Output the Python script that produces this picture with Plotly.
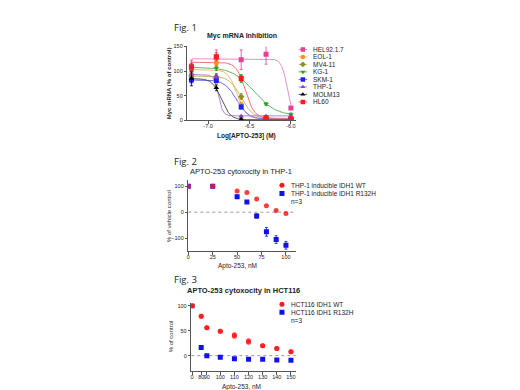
import numpy as np
import plotly.graph_objects as go

W, H = 520, 390
FONT = "Liberation Sans, Arial, sans-serif"
AX = "#555555"

def px(x):
    return x / W

def py(y):
    return 1 - y / H

# ---------------- Fig. 1 data ----------------
f1_logdose = [-7.2, -6.9, -6.6, -6.3, -6.0]
f1_names = ["HEL92.1.7", "EOL-1", "MV4-11", "KG-1", "SKM-1", "THP-1", "MOLM13", "HL60"]
hel = [110, 128, 123, 134, 25]
eol = [100, 117, 32, 3, 3]
mv4 = [90, 88, 48, 5, 3]
kg1 = [107, 106, 85, 33, 12]
skm = [82, 81, 27, 2, 2]
thp = [95, 90, 8, 8, 8]
molm = [85, 66, 2, 1, 1]
hl60 = [108, 129, 85, 5, 3]
hel_err = [12, 15, 20, 20, 3]
eol_err = [6, 8, 5, 2, 2]
mv4_err = [5, 5, 6, 2, 2]
kg1_err = [6, 5, 8, 3, 3]
skm_err = [6, 5, 4, 2, 2]
thp_err = [5, 5, 2, 2, 2]
molm_err = [15, 6, 2, 1, 1]
hl60_err = [8, 8, 6, 2, 2]
# fitted 4PL parameters: top, bottom, logIC50, hill
fit_top = [125, 103, 90, 108, 82, 93, 85, 118]
fit_bottom = [0, 3, 3, 9, 2, 9, 1, 4]
fit_logic50 = [-6.04, -6.65, -6.60, -6.445, -6.655, -6.875, -6.84, -6.55]
fit_hill = [12, 8, 6, 3.3, 6, 16, 8, 8]

f1_series = [hel, eol, mv4, kg1, skm, thp, molm, hl60]
f1_errs = [hel_err, eol_err, mv4_err, kg1_err, skm_err, thp_err, molm_err, hl60_err]
f1_mcolors = ["#e83e96", "#f7941d", "#8f8f1e", "#2ca02c", "#1f1fff", "#8e44ad", "#000000", "#ff1a1a"]
f1_lcolors = ["#ea8cc4", "#f5b870", "#c4b870", "#62b862", "#6c6cf5", "#b583d6", "#555555", "#ef7474"]
f1_symbols = ["square", "circle", "diamond", "triangle-down", "square", "triangle-up", "triangle-up", "square"]

# ---------------- Fig. 2 data ----------------
f2_dose = [0, 25, 50, 60, 70, 80, 90, 100]
f2_wt = [100, 100, 82, 76, 51, 25, 6, -5]
f2_mut = [100, 100, 60, 39, -15, -76, -106, -128]
f2_mut_err = [3, 3, 6, 5, 8, 17, 15, 15]
f2_names = ["THP-1 inducible IDH1 WT", "THP-1 inducible IDH1 R132H"]

# ---------------- Fig. 3 data ----------------
f3_dose = [0, 80, 90, 100, 110, 120, 130, 140, 150]
f3_wt_a = [100, 79, 56, 49, 42, 30, 20, 14.5, 8]
f3_wt_b = [100, 79, 56, 49, 39, 27, 20, 14.5, 8]
f3_mut = [100, 16.5, 0, -3, -6, -7, -7, -8.5, -9]
f3_ticks = [0, 80, 90, 100, 110, 120, 130, 140, 150]
f3_names = ["HCT116 IDH1 WT", "HCT116 IDH1 R132H"]
# broken-axis scale for Fig. 3
f3_break_in = [0, 80, 90, 100, 150]
f3_break_out = [80, 86.5, 90.5, 100, 150]

def f3_pos(v):
    return list(np.interp(v, f3_break_in, f3_break_out))

fig = go.Figure()

# ---- Fig 1 traces ----
xc = np.linspace(min(f1_logdose), max(f1_logdose), 200)
for i in range(len(f1_names)):
    yc = fit_bottom[i] + (fit_top[i] - fit_bottom[i]) / (1 + 10 ** ((xc - fit_logic50[i]) * fit_hill[i]))
    fig.add_trace(go.Scatter(x=xc, y=yc, mode="lines", line=dict(color=f1_lcolors[i], width=1),
                             xaxis="x", yaxis="y", showlegend=False, hoverinfo="skip"))
for i in range(len(f1_names)):
    fig.add_trace(go.Scatter(x=f1_logdose, y=f1_series[i], mode="markers",
                             marker=dict(color=f1_mcolors[i], symbol=f1_symbols[i], size=5),
                             error_y=dict(type="data", array=f1_errs[i], color=f1_mcolors[i], thickness=0.8, width=1.5),
                             xaxis="x", yaxis="y", showlegend=False, name=f1_names[i]))

# ---- Fig 2 traces ----
fig.add_trace(go.Scatter(x=[0, 110], y=[0, 0], mode="lines", line=dict(color="#999999", width=1, dash="dot"),
                         xaxis="x2", yaxis="y2", showlegend=False, hoverinfo="skip"))
fig.add_trace(go.Scatter(x=f2_dose, y=f2_mut, mode="markers",
                         marker=dict(color="#1010ee", symbol="square", size=5),
                         error_y=dict(type="data", array=f2_mut_err, color="#1010ee", thickness=0.8, width=1.5),
                         xaxis="x2", yaxis="y2", showlegend=False, name=f2_names[1]))
fig.add_trace(go.Scatter(x=f2_dose, y=f2_wt, mode="markers",
                         marker=dict(color="#ff1a1a", symbol="circle", size=5, opacity=0.85),
                         xaxis="x2", yaxis="y2", showlegend=False, name=f2_names[0]))

# ---- Fig 3 traces ----
fig.add_trace(go.Scatter(x=[79.5, 153.5], y=[0, 0], mode="lines", line=dict(color="#999999", width=1, dash="dot"),
                         xaxis="x3", yaxis="y3", showlegend=False, hoverinfo="skip"))
fig.add_trace(go.Scatter(x=f3_pos(f3_dose), y=f3_mut, mode="markers",
                         marker=dict(color="#1010ee", symbol="square", size=5),
                         xaxis="x3", yaxis="y3", showlegend=False, name=f3_names[1]))
fig.add_trace(go.Scatter(x=f3_pos(f3_dose), y=f3_wt_a, mode="markers",
                         marker=dict(color="#ff1a1a", symbol="circle", size=5, opacity=0.85),
                         xaxis="x3", yaxis="y3", showlegend=False, name=f3_names[0]))
fig.add_trace(go.Scatter(x=f3_pos(f3_dose), y=f3_wt_b, mode="markers",
                         marker=dict(color="#ff1a1a", symbol="circle", size=5, opacity=0.85),
                         xaxis="x3", yaxis="y3", showlegend=False, name=f3_names[0]))

# ---- legend axes (row index scale) ----
def legend_axes(n, ax_x, ax_y, left, right, top, bottom):
    return (dict(domain=[px(left), px(right)], range=[0, 1], visible=False, anchor=ax_y),
            dict(domain=[py(bottom), py(top)], range=[n - 0.5, -0.5], visible=False, anchor=ax_x))

lx4, ly4 = legend_axes(8, "x4", "y4", 289.5, 298.5, 35.2, 96.1)
lx5, ly5 = legend_axes(3, "x5", "y5", 269, 277, 172.8, 197.7)
lx6, ly6 = legend_axes(3, "x6", "y6", 269, 277, 293.8, 318.2)

annotations = []
for i, name in enumerate(f1_names):
    fig.add_trace(go.Scatter(x=[0, 1], y=[i, i], mode="lines", line=dict(color=f1_lcolors[i], width=1),
                             xaxis="x4", yaxis="y4", showlegend=False, hoverinfo="skip"))
    fig.add_trace(go.Scatter(x=[0.5], y=[i], mode="markers",
                             marker=dict(color=f1_mcolors[i], symbol=f1_symbols[i], size=4.5),
                             xaxis="x4", yaxis="y4", showlegend=False, hoverinfo="skip"))
    annotations.append(dict(text=name, xref="paper", yref="y4", x=px(302), y=i, xanchor="left",
                            yanchor="middle", showarrow=False, font=dict(size=6.5, color="#222")))

for xa, ya, names in (("x5", "y5", f2_names), ("x6", "y6", f3_names)):
    fig.add_trace(go.Scatter(x=[0.5], y=[0], mode="markers", marker=dict(color="#ff1a1a", symbol="circle", size=5),
                             xaxis=xa, yaxis=ya, showlegend=False, hoverinfo="skip"))
    fig.add_trace(go.Scatter(x=[0.5], y=[1], mode="markers", marker=dict(color="#1010ee", symbol="square", size=5),
                             xaxis=xa, yaxis=ya, showlegend=False, hoverinfo="skip"))
    for r, t in enumerate(list(names) + ["n=3"]):
        annotations.append(dict(text=t, xref="paper", yref=ya, x=px(280), y=r, xanchor="left",
                                yanchor="middle", showarrow=False, font=dict(size=6.5, color="#222")))

# ---- titles / labels ----
def txt(t, x, y, size, bold=False, angle=0, xanchor="center", color="#222", family=FONT):
    annotations.append(dict(text=("<b>%s</b>" % t) if bold else t, xref="paper", yref="paper",
                            x=px(x), y=py(y), xanchor=xanchor, yanchor="middle", showarrow=False,
                            textangle=angle, font=dict(size=size, color=color, family=family)))

for k, yy in ((1, 17), (2, 153), (3, 272.5)):
    txt("Fig. %d" % k, 163, yy, 9.5, xanchor="left", family="Open Sans, Liberation Sans, sans-serif")

txt("Myc mRNA Inhibition", 233, 25.5, 7, bold=True)
txt("Myc mRNA (% of control)", 159, 73, 6, bold=True, angle=-90)
txt("Log[APTO-253] (M)", 237, 127, 6.5, bold=True)

txt("APTO-253 cytoxocity in THP-1", 232, 163, 7.5)
txt("% of vehicle control", 159, 208, 6, angle=-90)
txt("Apto-253, nM", 228, 259, 6.5)

txt("APTO-253 cytoxocity in HCT116", 234, 283.5, 7.5, bold=True)
txt("% of control", 162, 330, 6, angle=-90)
txt("Apto-253, nM", 232, 381.5, 6.5)

def axis(domain, rng, **kw):
    d = dict(domain=domain, range=rng, showgrid=False, zeroline=False, showline=True, linecolor=AX,
             linewidth=1, ticks="outside", ticklen=2.5, tickwidth=1, tickcolor=AX, tickangle=0,
             tickfont=dict(size=5.5, color="#222", family=FONT))
    d.update(kw)
    return d

fig.update_layout(
    width=W, height=H, margin=dict(l=0, r=0, t=0, b=0),
    paper_bgcolor="white", plot_bgcolor="white",
    font=dict(family=FONT, size=6, color="#222"),
    showlegend=False,
    xaxis=axis([px(178), px(287)], [-7.25, -5.94], anchor="y", tickvals=[-7.0, -6.5, -6.0],
               ticktext=["-7.0", "-6.5", "-6.0"], ticklabelstandoff=-2),
    yaxis=axis([py(111), py(36)], [0, 150], anchor="x", tickvals=[0, 50, 100, 150]),
    xaxis2=axis([px(179), px(287)], [0, 110.2], anchor="y2", tickvals=[0, 25, 50, 75, 100],
                ticklabelstandoff=-2),
    yaxis2=axis([py(244), py(172)], [-151, 123], anchor="x2", tickvals=[-100, 0, 100]),
    xaxis3=axis([px(182), px(287)], [79.5, 153.5], anchor="y3", tickvals=f3_pos(f3_ticks),
                ticktext=[str(t) for t in f3_ticks], ticklabelstandoff=-2),
    yaxis3=axis([py(366), py(297)], [-31.5, 104.5], anchor="x3", tickvals=[0, 50, 100]),
    xaxis4=lx4, yaxis4=ly4, xaxis5=lx5, yaxis5=ly5, xaxis6=lx6, yaxis6=ly6,
    annotations=annotations,
)

fig.write_html("out.html")
